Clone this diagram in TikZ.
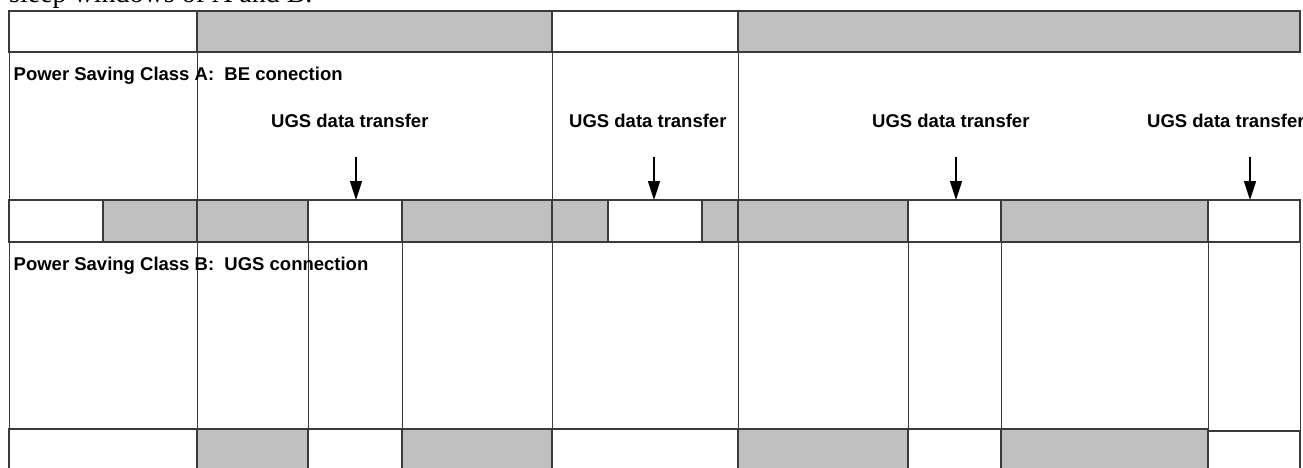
\documentclass[tikz,border=0pt]{standalone}
\usepackage{fontspec}
\setmainfont{Liberation Serif}
\newfontfamily\labfont{Liberation Sans}
\usetikzlibrary{arrows.meta}
\definecolor{cellgray}{HTML}{C0C0C0}
\definecolor{linegray}{HTML}{3A3A3A}
\newcommand\mkcell[6]{\node[cellbox,#6,minimum width={(#4-#2)*1pt},minimum height={(#5-#3)*1pt}] (#1) at ({(#2+#4)/2},{(#3+#5)/2}) {};}
\begin{document}
\frenchspacing
\begin{tikzpicture}[x=1pt,y=-1pt,
  cellbox/.style={draw=linegray,line width=1.2pt,inner sep=0pt,outer sep=0pt,rectangle},
  sleepc/.style={fill=cellgray},
  awake/.style={fill=white},
  grid/.style={draw=linegray,line width=1pt},
  lbl/.style={anchor=base west,inner sep=0pt,font=\labfont\bfseries\fontsize{18.5}{20}\selectfont},
  ugsarrow/.style={draw=black,line width=1.6pt,-{Triangle[length=19pt,width=12pt]}}]
\useasboundingbox (0,0) rectangle (1303,468);
\clip (0,0) rectangle (1303,468);
% partial caption text at top
\node[anchor=base west,inner sep=0pt,font=\fontsize{28}{30}\selectfont] (cap) at (9,3) {sleep windows of A and B.};
% vertical grid lines
\draw[grid] (9,11) -- (9,470);
\draw[grid] (197,11) -- (197,470);
\draw[grid] (552,11) -- (552,470);
\draw[grid] (738,11) -- (738,470);
\foreach \x in {308,402,908,1001,1208} {\draw[grid] (\x,200) -- (\x,470);}
\draw[grid] (1300,200) -- (1300,470);
% top row
\mkcell{t1}{9}{11}{197}{52}{awake}
\mkcell{t2}{197}{11}{552}{52}{sleepc}
\mkcell{t3}{552}{11}{738}{52}{awake}
\mkcell{t4}{738}{11}{1300}{52}{sleepc}
% band A
\mkcell{a1}{9}{200}{103}{242}{awake}
\mkcell{a2}{103}{200}{197}{242}{sleepc}
\mkcell{a3}{197}{200}{308}{242}{sleepc}
\mkcell{a4}{308}{200}{402}{242}{awake}
\mkcell{a5}{402}{200}{552}{242}{sleepc}
\mkcell{a6}{552}{200}{608}{242}{sleepc}
\mkcell{a7}{608}{200}{702}{242}{awake}
\mkcell{a8}{702}{200}{738}{242}{sleepc}
\mkcell{a9}{738}{200}{908}{242}{sleepc}
\mkcell{a10}{908}{200}{1001}{242}{awake}
\mkcell{a11}{1001}{200}{1208}{242}{sleepc}
\mkcell{a12}{1208}{200}{1300}{242}{awake}
% band B
\mkcell{b1}{9}{429}{197}{480}{awake}
\mkcell{b2}{197}{429}{308}{480}{sleepc}
\mkcell{b3}{308}{429}{402}{480}{awake}
\mkcell{b4}{402}{429}{552}{480}{sleepc}
\mkcell{b5}{552}{429}{738}{480}{awake}
\mkcell{b6}{738}{429}{908}{480}{sleepc}
\mkcell{b7}{908}{429}{1001}{480}{awake}
\mkcell{b8}{1001}{429}{1208}{480}{sleepc}
\mkcell{b9}{1208}{431}{1300}{480}{awake}
% labels
\node[lbl] (classA) at (13.5,81) {Power Saving Class A:\ \ BE conection};
\node[lbl] (classB) at (13.5,270.5) {Power Saving Class B:\ \ UGS connection};
\node[lbl] (u1) at (271,128) {UGS data transfer};
\node[lbl] (u2) at (569,128) {UGS data transfer};
\node[lbl] (u3) at (872,128) {UGS data transfer};
\node[lbl] (u4) at (1147,128) {UGS data transfer};
% arrows
\coordinate (s1) at (356,157);
\coordinate (s2) at (654,157);
\coordinate (s3) at (956,157);
\coordinate (s4) at (1250,157);
\draw[ugsarrow] (s1) -- (s1 |- a4.north);
\draw[ugsarrow] (s2) -- (s2 |- a7.north);
\draw[ugsarrow] (s3) -- (s3 |- a10.north);
\draw[ugsarrow] (s4) -- (s4 |- a12.north);
\end{tikzpicture}
\end{document}
